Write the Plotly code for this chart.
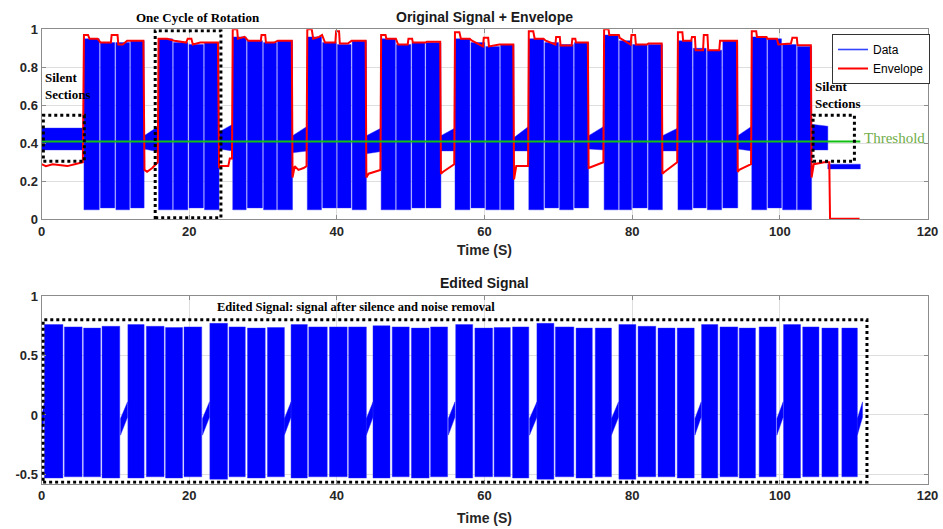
import plotly.graph_objects as go

# ---------------- data ----------------
# Top panel: original signal (10 rotation cycles, each with 4 sub-bursts)
cycle_start = [5.75, 15.85, 25.9, 36.0, 46.0, 56.0, 66.0, 76.2, 86.2, 96.2]
cycle_end = [13.9, 24.05, 34.0, 44.0, 54.1, 64.0, 74.1, 84.1, 94.3, 104.3]
cycle_gaps = [[7.9, 10.0, 12.0], [17.8, 19.9, 22.0], [27.8, 30.0, 31.9],
              [38.0, 40.0, 42.0], [48.0, 50.1, 52.0], [58.1, 60.1, 62.1],
              [68.1, 70.1, 72.1], [78.2, 80.0, 82.1], [88.2, 90.1, 92.2],
              [98.3, 100.3, 102.3]]
sub_top = [[0.95, 0.93, 0.93, 0.94], [0.95, 0.93, 0.92, 0.93], [0.96, 0.94, 0.93, 0.94],
           [0.96, 0.93, 0.92, 0.94], [0.95, 0.92, 0.93, 0.93], [0.95, 0.93, 0.91, 0.92],
           [0.95, 0.93, 0.92, 0.93], [0.97, 0.94, 0.92, 0.92], [0.94, 0.90, 0.89, 0.94],
           [0.96, 0.95, 0.92, 0.91]]
sub_bottom = [[0.05, 0.06, 0.05, 0.06], [0.05, 0.05, 0.06, 0.05], [0.05, 0.06, 0.05, 0.05],
              [0.05, 0.06, 0.06, 0.05], [0.05, 0.05, 0.06, 0.06], [0.05, 0.06, 0.05, 0.05],
              [0.05, 0.06, 0.05, 0.06], [0.05, 0.05, 0.06, 0.05], [0.05, 0.06, 0.05, 0.06],
              [0.05, 0.06, 0.05, 0.05]]

# silent (low-level) sections of the original signal
silence_t0 = [0.0, 13.9, 24.05, 34.0, 44.0, 54.1, 64.0, 74.1, 84.1, 94.3, 104.3]
silence_t1 = [5.75, 15.85, 25.9, 36.0, 46.0, 56.0, 66.0, 76.2, 86.2, 96.2, 106.5]
silence_hi0 = [0.48, 0.44, 0.46, 0.44, 0.44, 0.44, 0.43, 0.44, 0.44, 0.44, 0.50]
silence_hi1 = [0.48, 0.49, 0.50, 0.49, 0.48, 0.48, 0.49, 0.49, 0.48, 0.49, 0.49]
silence_lo0 = [0.365, 0.37, 0.37, 0.35, 0.345, 0.36, 0.36, 0.37, 0.36, 0.37, 0.365]
silence_lo1 = [0.365, 0.355, 0.36, 0.36, 0.357, 0.36, 0.36, 0.365, 0.36, 0.36, 0.365]
tail_t = [106.5, 110.9]
tail_lo, tail_hi = 0.265, 0.29

# envelope (red)
env_t = [0.0, 0.6, 1.5, 2.5, 3.5, 4.5, 5.6,
         5.75, 6.3, 6.5, 7.6, 8.0, 9.4, 9.5, 10.3, 10.4, 11.0, 11.6, 13.8,
         13.95, 14.3, 15.0, 15.75,
         15.85, 17.0, 18.0, 19.6, 19.8, 20.3, 20.5, 21.5, 23.9,
         24.05, 24.3, 25.3, 25.5, 25.8,
         25.9, 26.5, 26.6, 27.5, 28.0, 29.7, 29.8, 30.3, 30.4, 31.5, 32.0, 33.9,
         34.0, 34.3, 34.8, 35.5, 35.9,
         36.0, 36.6, 36.8, 37.6, 38.0, 38.4, 39.8, 39.9, 40.3, 40.4, 41.5, 42.0, 43.9,
         44.0, 44.3, 45.9,
         46.0, 46.6, 46.7, 48.0, 48.3, 49.6, 49.7, 50.2, 50.3, 52.0, 52.2, 54.0,
         54.1, 54.4, 55.9,
         56.0, 56.6, 56.8, 58.0, 58.3, 59.8, 59.9, 60.5, 60.6, 62.0, 63.9,
         64.0, 64.3, 65.9,
         66.0, 66.6, 66.8, 68.0, 68.3, 69.6, 69.7, 70.2, 70.3, 71.8, 71.9, 72.3, 72.4, 74.0,
         74.1, 76.1,
         76.2, 76.8, 76.9, 78.2, 78.3, 79.8, 79.9, 80.4, 80.5, 82.0, 82.2, 84.0,
         84.1, 84.4, 86.1,
         86.2, 86.8, 86.9, 88.0, 88.1, 88.5, 88.6, 89.6, 89.7, 90.2, 90.3, 91.8, 91.9, 94.2,
         94.3, 94.5, 96.1,
         96.2, 96.8, 96.9, 98.2, 98.3, 99.6, 99.8, 101.5, 101.7, 102.3, 102.4, 104.2,
         104.3, 104.6, 106.0, 106.7, 106.8, 110.8]
env_v = [0.29, 0.28, 0.29, 0.285, 0.28, 0.29, 0.30,
         0.97, 0.97, 0.95, 0.95, 0.93, 0.93, 0.97, 0.97, 0.92, 0.92, 0.94, 0.94,
         0.26, 0.25, 0.27, 0.30,
         0.95, 0.95, 0.94, 0.93, 0.95, 0.95, 0.92, 0.93, 0.93,
         0.27, 0.28, 0.28, 0.32, 0.32,
         1.0, 1.0, 0.95, 0.96, 0.94, 0.94, 0.97, 0.97, 0.93, 0.93, 0.94, 0.94,
         0.22, 0.28, 0.26, 0.27, 0.28,
         1.0, 1.0, 0.95, 0.96, 0.97, 0.93, 0.93, 0.99, 0.99, 0.925, 0.925, 0.94, 0.94,
         0.22, 0.24, 0.26,
         0.97, 0.97, 0.95, 0.95, 0.92, 0.92, 0.95, 0.95, 0.93, 0.93, 0.935, 0.935,
         0.24, 0.25, 0.29,
         0.985, 0.985, 0.95, 0.95, 0.94, 0.91, 0.955, 0.955, 0.91, 0.92, 0.92,
         0.21, 0.28, 0.28,
         0.99, 0.99, 0.95, 0.95, 0.94, 0.92, 0.96, 0.96, 0.915, 0.915, 0.95, 0.95, 0.93, 0.93,
         0.27, 0.30,
         1.0, 1.0, 0.97, 0.97, 0.955, 0.92, 0.97, 0.97, 0.92, 0.92, 0.925, 0.925,
         0.24, 0.25, 0.30,
         0.985, 0.985, 0.94, 0.94, 0.96, 0.96, 0.89, 0.89, 0.97, 0.97, 0.89, 0.89, 0.94, 0.94,
         0.25, 0.26, 0.29,
         0.99, 0.99, 0.96, 0.96, 0.95, 0.95, 0.92, 0.925, 0.955, 0.955, 0.916, 0.916,
         0.22, 0.29, 0.30, 0.30, 0.003, 0.003]

threshold_level = 0.41
threshold_t = [0.0, 110.9]

# Bottom panel: edited signal
ed_start = [[0.4, 3.1, 5.7, 8.2], [11.7, 14.2, 16.8, 19.3], [22.8, 25.4, 27.9, 30.6],
            [33.8, 36.2, 39.0, 41.6], [44.9, 47.5, 50.1, 52.7], [56.1, 58.7, 61.3, 63.8],
            [67.1, 69.6, 72.4, 75.0], [78.2, 80.8, 83.5, 86.1], [89.4, 91.9, 94.5, 97.2],
            [100.5, 103.1, 105.7, 108.4]]
ed_end = [[2.9, 5.5, 8.0, 10.6], [13.9, 16.6, 19.1, 21.7], [25.2, 27.6, 30.3, 32.9],
          [36.0, 38.7, 41.4, 44.0], [47.2, 49.8, 52.5, 55.0], [58.4, 61.1, 63.5, 66.0],
          [69.4, 72.1, 74.6, 77.2], [80.5, 83.2, 85.8, 88.4], [91.6, 94.3, 96.7, 99.5],
          [102.8, 105.3, 107.9, 110.5]]
ed_top = [[0.76, 0.74, 0.73, 0.745], [0.76, 0.745, 0.735, 0.74], [0.77, 0.74, 0.73, 0.735],
          [0.76, 0.74, 0.74, 0.74], [0.75, 0.74, 0.73, 0.74], [0.76, 0.73, 0.735, 0.74],
          [0.77, 0.74, 0.73, 0.73], [0.76, 0.745, 0.73, 0.73], [0.76, 0.74, 0.73, 0.74],
          [0.76, 0.74, 0.73, 0.73]]
ed_bot = [[-0.53, -0.52, -0.52, -0.53], [-0.53, -0.52, -0.53, -0.52], [-0.54, -0.52, -0.53, -0.52],
          [-0.53, -0.52, -0.52, -0.53], [-0.53, -0.52, -0.53, -0.52], [-0.53, -0.52, -0.52, -0.53],
          [-0.54, -0.52, -0.53, -0.52], [-0.54, -0.52, -0.52, -0.53], [-0.53, -0.52, -0.53, -0.52],
          [-0.53, -0.52, -0.52, -0.52]]
ramp_t0 = [0.0, 10.7, 21.8, 32.9, 44.0, 55.1, 66.1, 77.2, 88.5, 99.6, 110.5]
ramp_t1 = [0.4, 11.65, 22.75, 33.8, 44.9, 56.0, 67.1, 78.15, 89.35, 100.45, 111.2]
ramp_lo = [-0.17, -0.02]  # bottom edge at start / end of ramp
ramp_hi = [-0.03, 0.11]   # top edge at start / end of ramp

# ---------------- build figure ----------------
W, H = 943, 529
HALF_GAP = 0.075
BLUE = "#0000ff"
EDGE = "rgba(40,40,255,0.55)"


def add_poly(xs, ys, px, py):
    xs.extend(px + [px[0], None])
    ys.extend(py + [py[0], None])


top_x, top_y = [], []
for i in range(len(cycle_start)):
    edges = [cycle_start[i]] + cycle_gaps[i] + [cycle_end[i]]
    for k in range(4):
        x0 = edges[k] + (HALF_GAP if k > 0 else 0)
        x1 = edges[k + 1] - (HALF_GAP if k < 3 else 0)
        add_poly(top_x, top_y, [x0, x1, x1, x0],
                 [sub_bottom[i][k], sub_bottom[i][k], sub_top[i][k], sub_top[i][k]])
for i in range(len(silence_t0)):
    a, b = silence_t0[i], silence_t1[i]
    add_poly(top_x, top_y, [a, b, b, a],
             [silence_lo0[i], silence_lo1[i], silence_hi1[i], silence_hi0[i]])
add_poly(top_x, top_y, [tail_t[0], tail_t[1], tail_t[1], tail_t[0]],
         [tail_lo, tail_lo, tail_hi, tail_hi])

bot_x, bot_y = [], []
for i in range(len(ed_start)):
    for k in range(4):
        a, b = ed_start[i][k], ed_end[i][k]
        add_poly(bot_x, bot_y, [a, b, b, a],
                 [ed_bot[i][k], ed_bot[i][k], ed_top[i][k], ed_top[i][k]])
for i in range(len(ramp_t0)):
    a, b = ramp_t0[i], ramp_t1[i]
    add_poly(bot_x, bot_y, [a, b, b, a], [ramp_lo[0], ramp_lo[1], ramp_hi[1], ramp_hi[0]])

fig = go.Figure()
fig.add_trace(go.Scatter(x=top_x, y=top_y, mode="lines", fill="toself", fillcolor=BLUE,
                         line=dict(color=EDGE, width=0.8), showlegend=False, hoverinfo="skip",
                         xaxis="x", yaxis="y"))
fig.add_trace(go.Scatter(x=[None], y=[None], mode="lines", name="Data",
                         line=dict(color="#3344ff", width=1.6), xaxis="x", yaxis="y"))
fig.add_trace(go.Scatter(x=env_t, y=env_v, mode="lines", name="Envelope",
                         line=dict(color="#ff0000", width=2), xaxis="x", yaxis="y"))
fig.add_trace(go.Scatter(x=threshold_t, y=[threshold_level] * len(threshold_t), mode="lines",
                         line=dict(color="#11c011", width=2), showlegend=False,
                         xaxis="x", yaxis="y"))
fig.add_trace(go.Scatter(x=bot_x, y=bot_y, mode="lines", fill="toself", fillcolor=BLUE,
                         line=dict(color=EDGE, width=0.8), showlegend=False, hoverinfo="skip",
                         xaxis="x2", yaxis="y2"))

X0, X1 = 41.5 / W, 927.5 / W
TOP_DOM = [1 - 219.3 / H, 1 - 29.3 / H]
BOT_DOM = [1 - 483.7 / H, 1 - 296 / H]

tick_font = dict(family="Liberation Sans, Arial, sans-serif", size=13, color="#262626",
                 weight="bold")
axis_common = dict(showgrid=True, gridcolor="#dedede", gridwidth=1, zeroline=False,
                   showline=True, linecolor="#8c8c8c", linewidth=1, mirror="ticks",
                   ticks="inside", ticklen=4, tickcolor="#8c8c8c", tickfont=tick_font,
                   automargin=False)

fig.update_layout(
    width=W, height=H, margin=dict(l=0, r=0, t=0, b=0, autoexpand=False),
    paper_bgcolor="white", plot_bgcolor="white",
    xaxis=dict(domain=[X0, X1], range=[0, 120], tickvals=[0, 20, 40, 60, 80, 100, 120],
               anchor="y", **axis_common),
    yaxis=dict(domain=TOP_DOM, range=[0, 1], tickvals=[0, 0.2, 0.4, 0.6, 0.8, 1],
               ticktext=["0", "0.2", "0.4", "0.6", "0.8", "1"], anchor="x", **axis_common),
    xaxis2=dict(domain=[X0, X1], range=[0, 120], tickvals=[0, 20, 40, 60, 80, 100, 120],
                anchor="y2", **axis_common),
    yaxis2=dict(domain=BOT_DOM, range=[-0.578, 1], tickvals=[-0.5, 0, 0.5, 1],
                ticktext=["-0.5", "0", "0.5", "1"], anchor="x2", **axis_common),
    legend=dict(x=832 / W, y=1 - 34 / H, xanchor="left", yanchor="top",
                bgcolor="white", bordercolor="#333333", borderwidth=1,
                font=dict(family="Liberation Sans, Arial, sans-serif", size=12, color="#000"),
                tracegroupgap=0, itemwidth=30),
    showlegend=True,
)

SANS = "Liberation Sans, Arial, sans-serif"
SERIF = "Liberation Serif, Times New Roman, serif"


def ann(text, x, y, size, family, color="#000", xanchor="center", bold=True, align="center"):
    fig.add_annotation(text=text, x=x / W, y=1 - y / H, xref="paper", yref="paper",
                       xanchor=xanchor, yanchor="middle", showarrow=False, align=align,
                       font=dict(family=family, size=size, color=color,
                                 weight="bold" if bold else "normal"))


ann("Original Signal + Envelope", 484.5, 17, 14, SANS, "#1a1a1a")
ann("Time (S)", 484.5, 250, 14, SANS, "#262626")
ann("Edited Signal", 484.5, 283, 14, SANS, "#1a1a1a")
ann("Time (S)", 484.5, 518, 14, SANS, "#262626")
ann("One Cycle of Rotation", 198, 18, 13, SERIF)
ann("Silent<br>Sections", 43, 86, 13, SERIF, xanchor="left", align="left")
ann("Silent<br>Sections", 813, 95, 13, SERIF, xanchor="left", align="left")
ann("Threshold", 862, 138, 15, SERIF, "#70ad47", xanchor="left", bold=False)
ann("Edited Signal: signal after silence and noise removal", 215, 307, 12.5, SERIF,
    xanchor="left")

box_line = dict(color="black", width=3, dash="dot")
fig.add_shape(type="rect", xref="x", yref="y", x0=0.25, x1=5.8, y0=0.305, y1=0.547,
              line=box_line)
fig.add_shape(type="rect", xref="x", yref="y", x0=15.4, x1=24.3, y0=0.008, y1=0.993,
              line=box_line)
fig.add_shape(type="rect", xref="x", yref="y", x0=104.5, x1=110.1, y0=0.305, y1=0.547,
              line=box_line)
fig.add_shape(type="rect", xref="x2", yref="y2", x0=0.22, x1=111.8, y0=-0.566, y1=0.80,
              line=box_line)

fig.write_html("out.html")
